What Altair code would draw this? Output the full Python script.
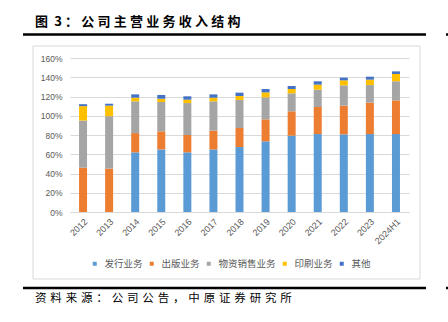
import altair as alt
import pandas as pd

years = ["2012", "2013", "2014", "2015", "2016", "2017", "2018", "2019",
         "2020", "2021", "2022", "2023", "2024H1"]
series = ["发行业务", "出版业务", "物资销售业务", "印刷业务", "其他"]
colors = ["#5B9BD5", "#ED7D31", "#A5A5A5", "#FFC000", "#4472C4"]

faxing = [0, 0, 62, 65, 62, 65, 67.5, 73.4, 79.3, 81, 80.7, 81, 81]
chuban = [46, 45, 20, 18.8, 18, 19.5, 19.8, 22.9, 25.3, 28.1, 29.8, 32.6, 35]
wuzi = [49, 54.5, 33, 30.5, 33.2, 30.5, 29.1, 22.8, 18.7, 18, 21.1, 18.3, 19.8]
yinshua = [15, 11, 3.8, 3.4, 3.5, 3.8, 4.1, 5.2, 4.5, 5.2, 5.2, 5.6, 7.6]
qita = [2, 2, 3.4, 3.9, 3.5, 3.4, 3.5, 3.5, 3.1, 3.5, 2.8, 3.1, 2.7]

title_text = "图 3：公司主营业务收入结构"
source_text = "资料来源：公司公告，中原证券研究所"

rows = []
for si, (name, vals) in enumerate(zip(series, [faxing, chuban, wuzi, yinshua, qita])):
    for y, v in zip(years, vals):
        rows.append({"year": y, "series": name, "value": v, "idx": si})
df = pd.DataFrame(rows)

CJK = "Noto Sans CJK SC"
GRAY = "#595959"

bars = alt.Chart(df).mark_bar(size=8).encode(
    x=alt.X("year:N", sort=years,
            scale=alt.Scale(paddingInner=0, paddingOuter=0),
            axis=alt.Axis(title=None, labelAngle=-45, ticks=False, labelPadding=5,
                          domainColor="#D9D9D9", labelColor=GRAY, labelFontSize=9,
                          labelFont="Liberation Sans", grid=False)),
    y=alt.Y("value:Q", stack="zero",
            scale=alt.Scale(domain=[0, 160], nice=False),
            axis=alt.Axis(title=None, values=list(range(0, 161, 20)),
                          labelExpr="datum.value + '%'", ticks=False, domain=False,
                          labelPadding=8, gridColor="#D9D9D9", labelColor=GRAY,
                          labelFontSize=8.5, labelFont="Liberation Sans")),
    color=alt.Color("series:N", scale=alt.Scale(domain=series, range=colors),
                    legend=alt.Legend(title=None, orient="none", direction="horizontal",
                                      legendX=20, legendY=201, symbolType="square",
                                      symbolSize=16, labelFontSize=9.5, labelColor=GRAY,
                                      labelFont=CJK, labelOffset=5, columnPadding=4,
                                      gridAlign="none", padding=0, symbolStrokeWidth=0)),
    order=alt.Order("idx:Q"),
)

# display strings: same text, with a small extra space between glyphs
head, rest = title_text.split(" ", 1)
title_disp = head + " \u2005" + "\u2005".join(rest)
source_disp = "\u2004".join(source_text)
one = pd.DataFrame({"t": [title_disp], "s": [source_disp]})

frame = alt.Chart(one).mark_rect(fill="transparent", stroke="#D9D9D9", strokeWidth=1).encode(
    x=alt.value(-37), x2=alt.value(350), y=alt.value(-12), y2=alt.value(221))

top_line = alt.Chart(one).mark_rule(color="black", strokeWidth=2.5).encode(
    x=alt.value(-47), x2=alt.value(356), y=alt.value(-23.5))
top_dot = alt.Chart(one).mark_rule(color="black", strokeWidth=2.5).encode(
    x=alt.value(376), x2=alt.value(378), y=alt.value(-23.5))
bottom_line = alt.Chart(one).mark_rule(color="black", strokeWidth=2.5).encode(
    x=alt.value(-47), x2=alt.value(356), y=alt.value(230))
bottom_dot = alt.Chart(one).mark_rule(color="black", strokeWidth=2.5).encode(
    x=alt.value(376), x2=alt.value(378), y=alt.value(230))

title = alt.Chart(one).mark_text(align="left", baseline="middle", fontSize=13,
                                 fontWeight="bold", font=CJK, color="black").encode(
    x=alt.value(-35), y=alt.value(-36), text="t:N")
source = alt.Chart(one).mark_text(align="left", baseline="middle", fontSize=11.5,
                                  font=CJK, color="black").encode(
    x=alt.value(-35), y=alt.value(241), text="s:N")

chart = alt.layer(frame, bars, top_line, top_dot, bottom_line, bottom_dot, title, source).properties(
    width=339, height=154,
    autosize=alt.AutoSizeParams(type="none"),
    padding={"left": 70, "top": 58, "right": 39, "bottom": 110},
    background="white",
).configure_view(stroke=None)

chart.save("out.html", embed_options={"renderer": "svg", "actions": False})
